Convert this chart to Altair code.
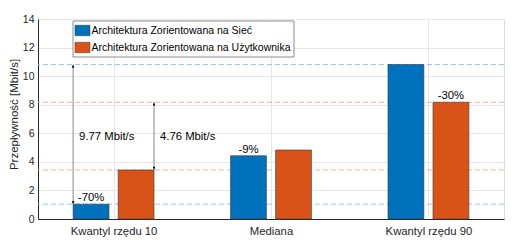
import altair as alt
import pandas as pd

categories = ["Kwantyl rzędu 10", "Mediana", "Kwantyl rzędu 90"]
series = ["Architektura Zorientowana na Sieć", "Architektura Zorientowana na Użytkownika"]
net_vals = [1.04, 4.43, 10.81]
user_vals = [3.43, 4.83, 8.17]
pct_labels = ["-70%", "-9%", "-30%"]
pct_on = [0, 0, 1]  # which series' bar carries the label
diff_labels = ["9.77 Mbit/s", "4.76 Mbit/s"]
diff_label_y = [5.74, 5.74]
y_ticks = [0, 2, 4, 6, 8, 10, 12, 14]
colors = ["#0072BD", "#D95319"]
ref_colors = ["#96c4ea", "#f3b096"]

FONT = "Liberation Sans"
GOFF = 0.143   # group offset of each series
HALF = 0.114   # half bar width

rows = []
for i, c in enumerate(categories):
    for s, vals in enumerate([net_vals, user_vals]):
        center = i + 1 + (-GOFF if s == 0 else GOFF)
        rows.append({"cat": c, "series": series[s], "value": vals[i], "base": 0.0,
                     "x0": center - HALF, "x1": center + HALF, "xc": center,
                     "label": pct_labels[i] if pct_on[i] == s else ""})
bars_df = pd.DataFrame(rows)

ref_df = pd.DataFrame({
    "y": [net_vals[0], net_vals[2], user_vals[0], user_vals[2]],
    "c": [ref_colors[0], ref_colors[0], ref_colors[1], ref_colors[1]],
})

b0 = bars_df.iloc[0]
b1 = bars_df.iloc[1]
arrow_df = pd.DataFrame({
    "x": [b0["x0"], b1["x1"]],
    "y0": [net_vals[0], user_vals[0]],
    "y1": [net_vals[2], user_vals[2]],
    "label": diff_labels,
    "ly": diff_label_y,
})

xs = alt.Scale(domain=[0.52, 3.48], nice=False, zero=False)
ys = alt.Scale(domain=[0, 14], nice=False)
label_expr = "datum.value == 1 ? '%s' : datum.value == 2 ? '%s' : '%s'" % tuple(categories)

x_axis = alt.Axis(values=[1, 2, 3], labelExpr=label_expr, title=None,
                  grid=True, gridColor="#e6e6e6", ticks=False, labelOverlap=False,
                  labelFontSize=11.3, labelPadding=6, labelColor="#262626",
                  domainColor="#262626", labelFont=FONT)
y_axis = alt.Axis(values=y_ticks, title="Przepływność [Mbit/s]",
                  grid=True, gridColor="#e6e6e6", ticks=False, labelOverlap=False,
                  labelFontSize=10.5, labelPadding=4, labelColor="#262626",
                  titleFontSize=11.5, titleFontWeight="normal", titleColor="#262626",
                  titleX=-24, titleY=95, titleBaseline="middle",
                  domainColor="#262626", labelFont=FONT, titleFont=FONT)

def X(field):
    return alt.X(field, scale=xs, axis=x_axis)

def Y(field):
    return alt.Y(field, scale=ys, axis=y_axis)

base = alt.Chart(bars_df)

refs = alt.Chart(ref_df).mark_rule(strokeDash=[5, 3], strokeWidth=1).encode(
    y=Y("y:Q"), stroke=alt.Stroke("c:N", scale=None)
)

bars = base.mark_bar(stroke="#3a3a3a", strokeWidth=0.6).encode(
    x=X("x0:Q"), x2="x1:Q",
    y=Y("value:Q"), y2="base:Q",
    color=alt.Color("series:N", scale=alt.Scale(domain=series, range=colors),
                    legend=alt.Legend(title=None, orient="none", legendX=34.5, legendY=1.5,
                                      fillColor="white", strokeColor="#8c8c8c", padding=2,
                                      symbolType="M-1,-0.7H1V0.7H-1Z", symbolSize=225,
                                      symbolStrokeColor="#3a3a3a", symbolStrokeWidth=0.5,
                                      symbolOpacity=1, labelOffset=1, rowPadding=2,
                                      labelFontSize=10.5, labelFont=FONT, labelColor="#000000",
                                      labelLimit=400)),
)

arrow_lines = alt.Chart(arrow_df).mark_rule(color="#8a8a8a", strokeWidth=1).encode(
    x=X("x:Q"), y=Y("y0:Q"), y2="y1:Q"
)
head_up = alt.Chart(arrow_df).mark_point(shape="M0,0L-0.4,1L0.4,1Z", filled=True, color="#000000",
                                         size=40, opacity=1).encode(
    x=X("x:Q"), y=Y("y1:Q")
)
head_down = alt.Chart(arrow_df).mark_point(shape="M0,0L-0.4,-1L0.4,-1Z", filled=True, color="#000000",
                                           size=40, opacity=1).encode(
    x=X("x:Q"), y=Y("y0:Q")
)
arrow_text = alt.Chart(arrow_df).mark_text(align="left", dx=6, fontSize=11.3, font=FONT,
                                           color="#000000").encode(
    x=X("x:Q"), y=Y("ly:Q"), text="label:N"
)

pct_text = base.mark_text(baseline="bottom", dy=-1, fontSize=11.3, font=FONT, color="#000000").encode(
    x=X("xc:Q"), y=Y("value:Q"), text="label:N"
)

chart = alt.layer(refs, bars, arrow_lines, head_up, head_down, arrow_text, pct_text).properties(
    width=466, height=200,
    autosize=alt.AutoSizeParams(type="none"),
    padding={"left": 30, "top": 11, "right": 3, "bottom": 19},
).configure_view(stroke="#262626", strokeWidth=1).configure(background="white")

chart.save("out.html", embed_options={"renderer": "svg", "actions": False})
